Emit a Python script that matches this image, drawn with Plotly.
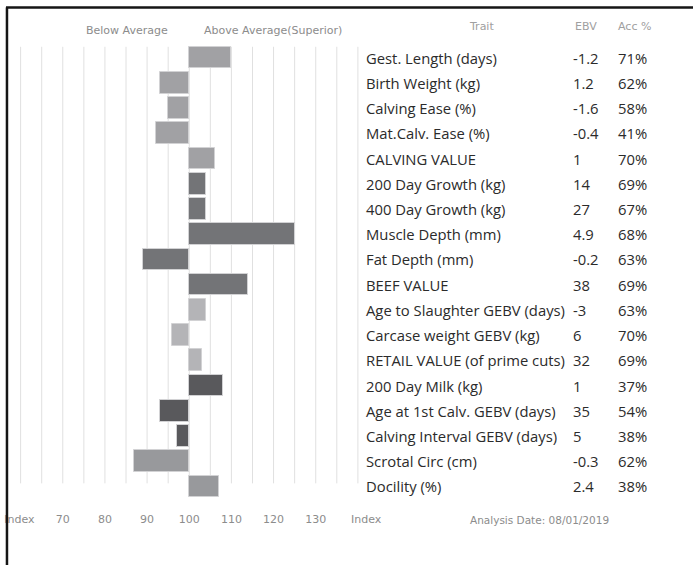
import plotly.graph_objects as go

# ---------------- data ----------------
traits = ["Gest. Length (days)", "Birth Weight (kg)", "Calving Ease (%)", "Mat.Calv. Ease (%)",
          "CALVING VALUE", "200 Day Growth (kg)", "400 Day Growth (kg)", "Muscle Depth (mm)",
          "Fat Depth (mm)", "BEEF VALUE", "Age to Slaughter GEBV (days)", "Carcase weight GEBV (kg)",
          "RETAIL VALUE (of prime cuts)", "200 Day Milk (kg)", "Age at 1st Calv. GEBV (days)",
          "Calving Interval GEBV (days)", "Scrotal Circ (cm)", "Docility (%)"]
ebv = ["-1.2", "1.2", "-1.6", "-0.4", "1", "14", "27", "4.9", "-0.2", "38", "-3", "6", "32",
       "1", "35", "5", "-0.3", "2.4"]
acc = ["71%", "62%", "58%", "41%", "70%", "69%", "67%", "68%", "63%", "69%", "63%", "70%",
       "69%", "37%", "54%", "38%", "62%", "38%"]
index_vals = [110, 93, 95, 92, 106, 104, 104, 125, 89, 114, 104, 96, 103, 108, 93, 97, 87, 107]
groups = ["calving"] * 5 + ["growth"] * 5 + ["carcase"] * 3 + ["fertility"] * 3 + ["other"] * 2
group_colors = {"calving": "#a1a1a4", "growth": "#737477", "carcase": "#b4b4b7",
                "fertility": "#59595c", "other": "#98999c"}
tick_vals = [59.7, 70, 80, 90, 100, 110, 120, 130, 141.96]
tick_text = ["Index", "70", "80", "90", "100", "110", "120", "130", "Index"]
grid_vals = list(range(60, 141, 5))
average = 100

# ---------------- geometry ----------------
W, H = 696, 565
PX_PER_UNIT = 4.234
X_MIN, X_MAX = 55.11, 145.0
T, B = 45, 66.4
plot_h = H - T - B

def px(xp):
    return xp / W

def py(yp):
    return (H - B - yp) / plot_h

rows = list(range(len(traits)))
fig = go.Figure()
fig.add_trace(go.Bar(
    y=rows, x=[v - average for v in index_vals], base=average, orientation="h",
    width=0.86,
    marker=dict(color=[group_colors[g] for g in groups], line=dict(color="#d2d2d4", width=1)),
    hoverinfo="skip", showlegend=False,
))

shapes = []
for g in grid_vals:
    shapes.append(dict(type="line", xref="x", yref="y", x0=g, x1=g, y0=-0.43, y1=16.88,
                       line=dict(color="#e0e0e0", width=1), layer="below"))
# frame
shapes.append(dict(type="line", xref="paper", yref="paper", x0=px(7), x1=px(7),
                   y0=py(H), y1=py(7.5), line=dict(color="#151515", width=2.5), layer="above"))
shapes.append(dict(type="line", xref="paper", yref="paper", x0=px(6), x1=px(W),
                   y0=py(7.5), y1=py(7.5), line=dict(color="#151515", width=2.5), layer="above"))

ann = []
trait_font = dict(family="Open Sans", size=14.8, color="#2b2b2b")
for i in rows:
    ann.append(dict(x=px(366), y=i, xref="paper", yref="y", text=traits[i], showarrow=False,
                    xanchor="left", yanchor="middle", font=trait_font))
    ann.append(dict(x=px(573), y=i, xref="paper", yref="y", text=ebv[i], showarrow=False,
                    xanchor="left", yanchor="middle", font=trait_font))
    ann.append(dict(x=px(619), y=i, xref="paper", yref="y", text=acc[i], showarrow=False,
                    xanchor="left", yanchor="middle", font=trait_font))

head_font = dict(family="DejaVu Sans", size=11, color="#a0a0a0")
ann.append(dict(x=px(484), y=py(27), xref="paper", yref="paper", text="Trait", showarrow=False,
                xanchor="center", yanchor="middle", font=head_font))
ann.append(dict(x=px(575), y=py(27), xref="paper", yref="paper", text="EBV", showarrow=False,
                xanchor="left", yanchor="middle", font=head_font))
ann.append(dict(x=px(619), y=py(27), xref="paper", yref="paper", text="Acc %", showarrow=False,
                xanchor="left", yanchor="middle", font=head_font))

lab_font = dict(family="DejaVu Sans", size=11, color="#8c8c8c")
ann.append(dict(x=px(84), y=py(31), xref="paper", yref="paper", text="Below Average",
                showarrow=False, xanchor="left", yanchor="middle", font=lab_font))
ann.append(dict(x=px(203), y=py(31), xref="paper", yref="paper", text="Above Average(Superior)",
                showarrow=False, xanchor="left", yanchor="middle", font=lab_font))
ann.append(dict(x=px(470), y=py(520), xref="paper", yref="paper", text="Analysis Date: 08/01/2019",
                showarrow=False, xanchor="left", yanchor="middle",
                font=dict(family="DejaVu Sans", size=10.5, color="#8c8c8c")))

fig.update_layout(
    width=W, height=H, margin=dict(l=0, r=0, t=T, b=B),
    paper_bgcolor="white", plot_bgcolor="rgba(0,0,0,0)",
    xaxis=dict(range=[X_MIN, X_MAX], domain=[0, (X_MAX - X_MIN) * PX_PER_UNIT / W],
               showgrid=False, zeroline=False, showline=False,
               tickvals=tick_vals, ticktext=tick_text, ticks="", ticklabelstandoff=12,
               tickfont=dict(family="DejaVu Sans", size=11, color="#8c8c8c")),
    yaxis=dict(range=[17.5, -0.5], showgrid=False, zeroline=False, showline=False,
               showticklabels=False, ticks=""),
    shapes=shapes, annotations=ann, bargap=0,
)
fig.write_html("out.html", config={"displayModeBar": False},
               post_script="document.body.style.margin='0';document.body.style.overflow='hidden';"
                           "document.documentElement.style.overflow='hidden';")
